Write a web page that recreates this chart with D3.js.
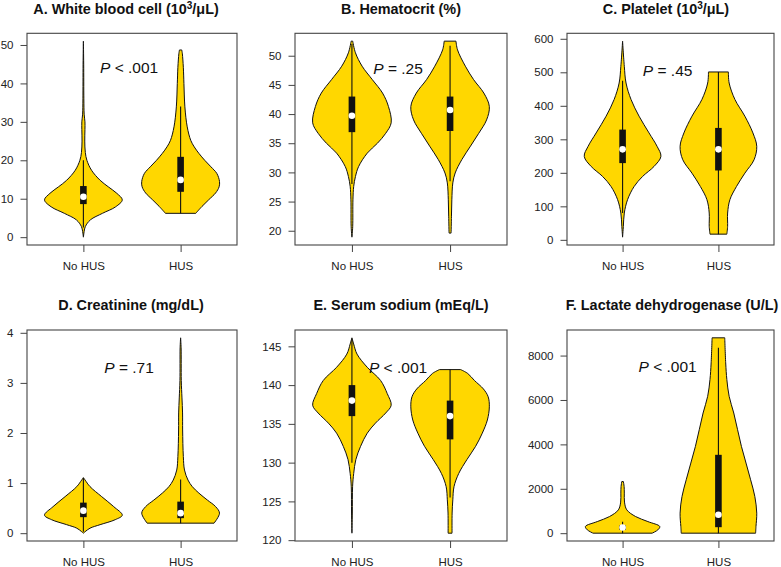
<!DOCTYPE html>
<html><head><meta charset="utf-8">
<script src="https://cdn.jsdelivr.net/npm/d3@7"></script>
<style>
body{margin:0;background:#fff}
svg{display:block}
text{font-family:"Liberation Sans",Arial,Helvetica,sans-serif}
</style>
</head><body>
<svg id="chart" width="781" height="567"></svg>
<script>
// ---------------- DATA ----------------
const groups = ["No HUS", "HUS"];

// titles: [before superscript, superscript, after]
const titles = [
  ["A. White blood cell (10", "3", "/\u03bcL)"],
  ["B. Hematocrit (%)", "", ""],
  ["C. Platelet (10", "3", "/\u03bcL)"],
  ["D. Creatinine (mg/dL)", "", ""],
  ["E. Serum sodium (mEq/L)", "", ""],
  ["F. Lactate dehydrogenase (U/L)", "", ""]
];
const pTexts = ["< .001", "= .25", "= .45", "= .71", "< .001", "< .001"];
const pLabelY = [44.2, 47.8, 506, 3.3, 142.3, 7491];

const yTicksA = [0, 10, 20, 30, 40, 50];
const yTicksB = [20, 25, 30, 35, 40, 45, 50];
const yTicksC = [0, 100, 200, 300, 400, 500, 600];
const yTicksD = [0, 1, 2, 3, 4];
const yTicksE = [120, 125, 130, 135, 140, 145];
const yTicksF = [0, 2000, 4000, 6000, 8000];

// violin outlines: [value, relative half-width]
const wbcNoHUS = [[0,0],[1.5,0.02],[2.75,0.05],[4.5,0.18],[6.2,0.49],[7.9,0.83],[9.7,1.0],[11.4,0.86],[13.1,0.64],[14.8,0.43],[17.4,0.21],[20,0.09],[22,0.05],[25,0.035],[28,0.04],[30,0.04],[32,0.02],[36,0.012],[45,0.008],[51,0]];
const wbcHUS = [[6.2,0.39],[8,0.55],[9.7,0.72],[11.5,0.9],[13.1,0.99],[14.5,1.0],[16.6,0.93],[18.3,0.78],[20,0.62],[21.8,0.47],[23.5,0.35],[25.2,0.26],[28.7,0.17],[33.9,0.11],[40,0.085],[44.2,0.07],[47.7,0.045],[48.7,0.03]];
const hctNoHUS = [[18.9,0],[20.7,0.02],[25.3,0.026],[27.6,0.045],[29.3,0.09],[31,0.17],[33.3,0.39],[35,0.65],[36.7,0.86],[38.5,1.0],[41.3,0.93],[43.6,0.78],[45.9,0.52],[48.2,0.26],[50.5,0.09],[52.5,0.02]];
const hctHUS = [[19.6,0.026],[22.5,0.035],[25.3,0.045],[28.2,0.07],[29.9,0.13],[32.2,0.3],[34.5,0.52],[36.7,0.73],[39,0.93],[41.3,1.0],[43.6,0.86],[45.9,0.6],[48.2,0.39],[51,0.19],[52.5,0.15]];
const pltNoHUS = [[8,0],[40,0.02],[80,0.045],[120,0.13],[159,0.3],[189,0.52],[219,0.82],[249,1.0],[279,0.9],[319,0.69],[369,0.43],[419,0.22],[468,0.09],[518,0.045],[593,0]];
const pltHUS = [[17,0.22],[40,0.24],[80,0.24],[120,0.3],[159,0.47],[199,0.69],[239,0.93],[279,1.0],[319,0.9],[369,0.69],[419,0.43],[468,0.28],[501,0.26]];
const crNoHUS = [[0,0],[0.03,0.045],[0.10,0.17],[0.17,0.43],[0.27,0.82],[0.36,1.0],[0.53,0.78],[0.73,0.47],[0.93,0.17],[1.06,0.045],[1.11,0]];
const crHUS = [[0.2,0.86],[0.4,1.0],[0.53,0.9],[0.66,0.69],[0.8,0.47],[0.93,0.3],[1.06,0.19],[1.26,0.1],[1.53,0.07],[2.06,0.052],[2.4,0.05],[2.7,0.035],[3.05,0.017],[3.7,0.013],[3.9,0]];
const naNoHUS = [[120.9,0],[123.5,0.01],[126.9,0.017],[128.6,0.045],[130.4,0.1],[132.1,0.22],[133.8,0.39],[135.1,0.6],[136.4,0.86],[137.4,1.0],[138.9,0.9],[140.6,0.73],[142.3,0.39],[144,0.13],[145.3,0.045],[146.1,0]];
const naHUS = [[120.9,0.05],[123.5,0.052],[125.2,0.07],[126.9,0.1],[128.6,0.22],[130.4,0.43],[132.1,0.65],[133.8,0.82],[135.5,0.95],[137.2,1.0],[138.5,0.97],[139.5,0.85],[140.6,0.62],[141.5,0.45],[142,0.27]];
const ldhNoHUS = [[0,0.77],[150,0.92],[300,0.97],[523,0.66],[750,0.34],[1050,0.11],[1400,0.05],[1805,0.045],[2100,0.04],[2328,0.02]];
const ldhHUS = [[0,0.97],[300,0.98],[902,1.0],[1654,0.95],[2406,0.84],[3158,0.72],[3910,0.6],[4660,0.5],[5413,0.4],[6165,0.28],[6920,0.22],[7670,0.19],[8800,0.165]];

// box stats per group: [lower whisker, Q1, median, Q3, upper whisker]
const wbcBox = [[2.5, 8.6, 10.5, 13.3, 20], [6.2, 11.8, 14.9, 20.9, 34]];
const hctBox = [[28, 36.9, 39.7, 43, 52], [28.5, 37.1, 40.7, 43, 51.7]];
const pltBox = [[80, 229, 270, 329, 475], [17, 207, 270, 334, 501]];
const crBox  = [[0.03, 0.32, 0.45, 0.61, 1.1], [0.2, 0.3, 0.4, 0.63, 1.07]];
const naBox  = [[130, 136, 138, 140, 146], [125.5, 133, 136, 138, 142]];
const ldhBox = [[0, 150, 253, 350, 520], [0, 270, 827, 3530, 8350]];

// ---------------- LAYOUT ----------------
const cols = [[27, 237], [295, 507], [567, 774]];
const rows = [[33.3, 245], [330, 541]];
const titleX = [126, 401, 666, 131, 401, 672];
const titleBase = [13.5, 309.5];

const panels = [
  {violins: [wbcNoHUS, wbcHUS], box: wbcBox, ticks: yTicksA},
  {violins: [hctNoHUS, hctHUS], box: hctBox, ticks: yTicksB},
  {violins: [pltNoHUS, pltHUS], box: pltBox, ticks: yTicksC},
  {violins: [crNoHUS, crHUS], box: crBox, ticks: yTicksD},
  {violins: [naNoHUS, naHUS], box: naBox, ticks: yTicksE},
  {violins: [ldhNoHUS, ldhHUS], box: ldhBox, ticks: yTicksF}
];

const svg = d3.select("#chart");
const FILL = "#FFD700";

panels.forEach((p, i) => {
  const [L, R] = cols[i % 3];
  const [T, B] = rows[Math.floor(i / 3)];
  const all = p.violins.flat().map(d => d[0]);
  const lo = d3.min(all), hi = d3.max(all), pad = 0.04 * (hi - lo);
  const x = d3.scaleLinear().domain([0.42, 2.58]).range([L, R]);
  const y = d3.scaleLinear().domain([lo - pad, hi + pad]).range([B, T]);
  const g = svg.append("g");

  // violins
  p.violins.forEach((v, k) => {
    const pos = k + 1;
    const area = d3.area()
      .curve(d3.curveCatmullRom.alpha(0.5))
      .y(d => y(d[0]))
      .x0(d => x(pos - 0.4 * d[1]))
      .x1(d => x(pos + 0.4 * d[1]));
    g.append("path").attr("d", area(v))
      .attr("fill", FILL).attr("stroke", "#111").attr("stroke-width", 1);
    const b = p.box[k];
    g.append("line")
      .attr("x1", x(pos)).attr("x2", x(pos))
      .attr("y1", y(b[0])).attr("y2", y(b[4]))
      .attr("stroke", "#111").attr("stroke-width", 1.1);
    g.append("rect")
      .attr("x", x(pos) - 3.3).attr("width", 6.6)
      .attr("y", y(b[3])).attr("height", y(b[1]) - y(b[3]))
      .attr("fill", "#111");
    g.append("circle")
      .attr("cx", x(pos)).attr("cy", y(b[2])).attr("r", 3.3)
      .attr("fill", "#fff");
  });

  // frame
  g.append("rect").attr("x", L).attr("y", T).attr("width", R - L).attr("height", B - T)
    .attr("fill", "none").attr("stroke", "#444").attr("stroke-width", 1.1);

  // y axis
  const ya = g.append("g").attr("transform", `translate(${L},0)`)
    .call(d3.axisLeft(y).tickValues(p.ticks).tickSize(6.5).tickPadding(7).tickFormat(d3.format("d")));
  ya.select(".domain").remove();
  ya.selectAll(".tick line").attr("stroke", "#444");
  ya.selectAll("text").attr("font-size", 11.5).attr("fill", "#222")
    .attr("font-family", "'Liberation Sans', Arial, sans-serif");

  // x axis
  const xa = g.append("g").attr("transform", `translate(0,${B})`)
    .call(d3.axisBottom(x).tickValues([1, 2]).tickSize(7).tickPadding(9.5).tickFormat(d => groups[d - 1]));
  xa.select(".domain").remove();
  xa.selectAll(".tick line").attr("stroke", "#444");
  xa.selectAll("text").attr("font-size", 11.5).attr("fill", "#222")
    .attr("font-family", "'Liberation Sans', Arial, sans-serif");

  // title
  const t = titles[i];
  const tt = svg.append("text").attr("x", titleX[i]).attr("y", titleBase[Math.floor(i / 3)])
    .attr("text-anchor", "middle").attr("font-size", 14.4).attr("font-weight", "bold").attr("fill", "#111");
  tt.append("tspan").text(t[0]);
  if (t[1]) {
    tt.append("tspan").attr("font-size", 10).attr("dy", -5).text(t[1]);
    tt.append("tspan").attr("dy", 5).text(t[2]);
  }

  // P value
  const pt = g.append("text").attr("x", x(1.47)).attr("y", y(pLabelY[i])).attr("dy", "0.36em")
    .attr("text-anchor", "middle").attr("font-size", 15.5).attr("fill", "#111");
  pt.append("tspan").attr("font-style", "italic").text("P");
  pt.append("tspan").text(" " + pTexts[i]);
});
</script>
</body></html>
